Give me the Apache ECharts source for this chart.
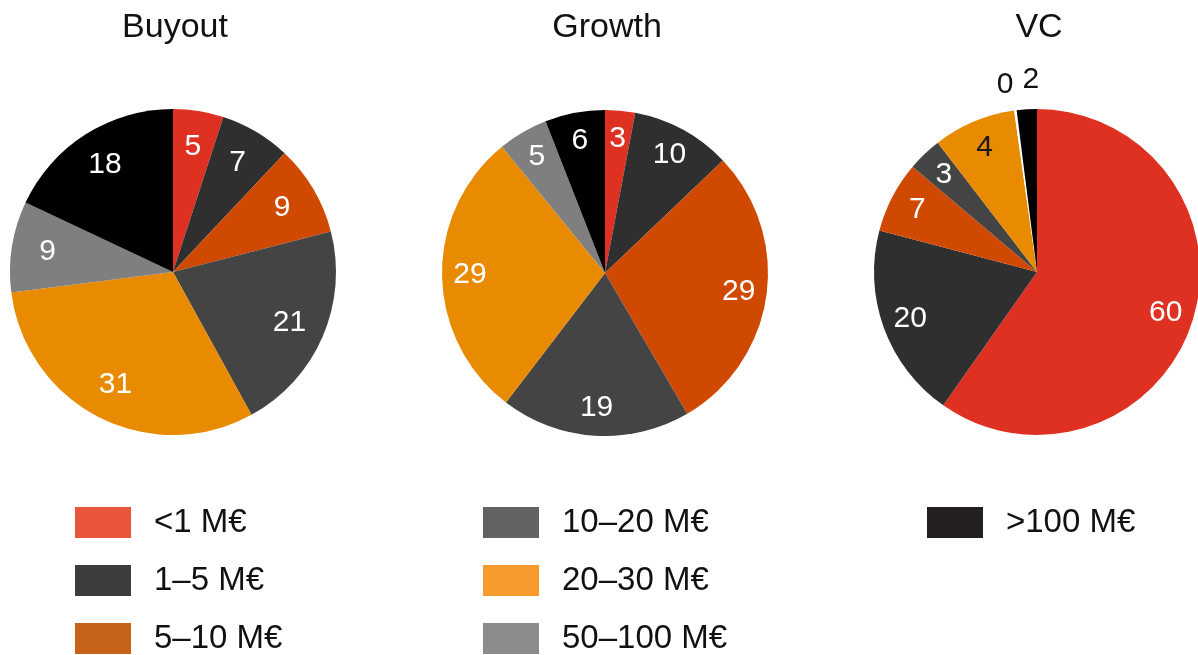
<!DOCTYPE html>
<html><head><meta charset="utf-8">
<script src="https://cdn.jsdelivr.net/npm/echarts@6/dist/echarts.min.js"></script>
<style>html,body{margin:0;padding:0;background:#fff}#chart{width:1198px;height:655px}</style>
</head><body><div id="chart"></div>
<script>
// ---- data ----
const categories = ['<1 M€', '1–5 M€', '5–10 M€', '10–20 M€', '20–30 M€', '50–100 M€', '>100 M€'];
const panelTitles = ['Buyout', 'Growth', 'VC'];
const buyoutValues = [5, 7, 9, 21, 31, 9, 18];
const growthValues = [3, 10, 29, 19, 29, 5, 6];
// VC: printed labels, and slice sizes as drawn in the picture (the drawn angles differ from the labels)
const vcLabels = [60, 20, 7, 3, 4, 0, 2];
const vcShares = [59.9, 19.4, 7.1, 3.4, 8.2, 0.25, 2];

// ---- style ----
const sliceColors = ['#de3121', '#2f2f2f', '#cf4a00', '#444444', '#e98b00', '#7f7f7f', '#000000'];
const legendColors = ['#e8553a', '#3c3c3c', '#c7621a', '#636365', '#f89b2f', '#8c8c8e', '#231f20'];
const FONT = '"Liberation Sans", Arial, Helvetica, sans-serif';
const R = 163;
const centers = [[173, 272], [605, 273], [1037, 272]];
const labelRingInner = [0.52, 0.62, 0.62];

const panels = [
  { values: buyoutValues, labels: buyoutValues },
  { values: growthValues, labels: growthValues },
  { values: vcShares, labels: vcLabels }
];

const series = [];
panels.forEach((p, k) => {
  const base = p.values.map((v, i) => ({
    name: categories[i], value: v,
    itemStyle: { color: (k === 2 && i === 5) ? '#ffffff' : sliceColors[i] }
  }));
  series.push({
    type: 'pie', center: centers[k], radius: [0, R], startAngle: 90, clockwise: true,
    label: { show: false }, labelLine: { show: false }, silent: true,
    emphasis: { disabled: true }, data: base
  });
  // label ring (labels sit at ~0.8 R)
  series.push({
    type: 'pie', center: centers[k], radius: [labelRingInner[k] * R, R], startAngle: 90, clockwise: true,
    silent: true, emphasis: { disabled: true }, labelLine: { show: false },
    itemStyle: { color: 'transparent' }, avoidLabelOverlap: false,
    label: {
      show: true, position: 'inside', fontFamily: FONT, fontSize: 30, color: '#ffffff',
      formatter: (prm) => String(p.labels[prm.dataIndex])
    },
    data: p.values.map((v, i) => {
      const d = { name: categories[i], value: v };
      if (k === 2 && (i === 5 || i === 6)) d.label = { show: false };
      if (k === 2 && i === 4) d.label = { color: '#1a1a1a' };
      return d;
    })
  });
});
// outer labels for the two tiny VC slices
series.push({
  type: 'pie', center: centers[2], radius: [R, 2 * 192 - R], startAngle: 90, clockwise: true,
  silent: true, emphasis: { disabled: true }, labelLine: { show: false },
  itemStyle: { color: 'transparent' }, avoidLabelOverlap: false,
  label: {
    show: true, position: 'inside', fontFamily: FONT, fontSize: 30, color: '#111111',
    formatter: (prm) => String(vcLabels[prm.dataIndex])
  },
  data: vcShares.map((v, i) => {
    const d = { name: categories[i], value: v, label: { show: false } };
    if (i === 5) d.label = { show: true, offset: [-6, 6] };
    if (i === 6) d.label = { show: true, offset: [6, 2] };
    return d;
  })
});

const legendCols = [[0, 1, 2], [3, 4, 5], [6]];
const legendLefts = [75, 483, 927];
const legends = legendCols.map((idxs, c) => ({
  orient: 'vertical', left: legendLefts[c], top: 506, height: 220, padding: 0,
  itemWidth: 56, itemHeight: 31, itemGap: 25, selectedMode: false,
  textStyle: { fontFamily: FONT, fontSize: 33, color: '#111111', padding: [0, 0, 0, 18] },
  data: idxs.map(i => ({ name: categories[i], icon: 'rect', itemStyle: { color: legendColors[i] } }))
}));

const titles = panelTitles.map((t, k) => ({
  text: t, left: centers[k][0] + 2, top: 11, textAlign: 'center', padding: 0,
  textStyle: { fontFamily: FONT, fontSize: 34, fontWeight: 'normal', color: '#111111' }
}));

const chart = echarts.init(document.getElementById('chart'), null, { renderer: 'canvas' });
chart.setOption({
  backgroundColor: '#ffffff',
  animation: false,
  title: titles,
  legend: legends,
  series: series
});
</script></body></html>
